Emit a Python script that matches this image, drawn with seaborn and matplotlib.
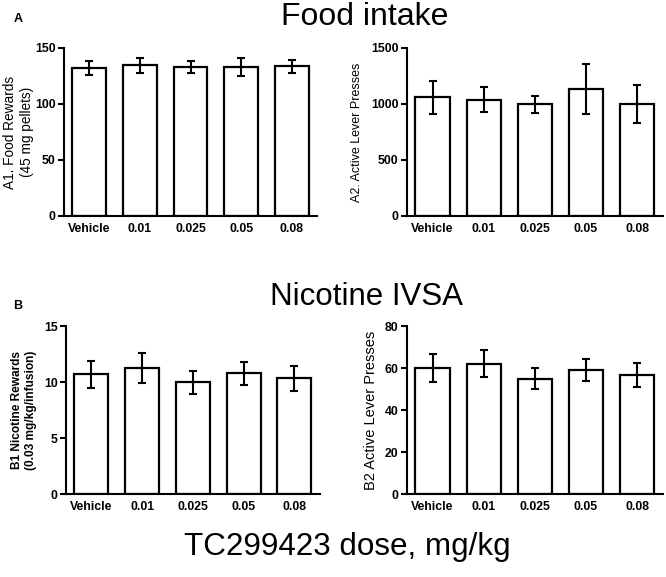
import numpy as np
import pandas as pd
import matplotlib
matplotlib.use("Agg")
import matplotlib.pyplot as plt
import seaborn as sns

doses = ["Vehicle", "0.01", "0.025", "0.05", "0.08"]

food_rewards = [132, 134.5, 133, 133, 133.6]
food_rewards_sem = [6, 6.7, 5.6, 8, 6]

food_presses = [1060, 1039, 997, 1131, 997]
food_presses_sem = [148, 113, 78, 225, 170]

nic_rewards = [10.68, 11.25, 9.96, 10.77, 10.32]
nic_rewards_sem = [1.2, 1.3, 1.05, 1.03, 1.12]

nic_presses = [60, 62, 55, 59, 56.5]
nic_presses_sem = [6.6, 6.5, 5, 5.4, 5.7]

sns.set_style("ticks")
plt.rcParams["font.family"] = ["Liberation Sans", "DejaVu Sans"]
plt.rcParams["text.color"] = "black"
plt.rcParams["axes.labelcolor"] = "black"
plt.rcParams["xtick.color"] = "black"
plt.rcParams["ytick.color"] = "black"
plt.rcParams["axes.edgecolor"] = "black"

fig = plt.figure(figsize=(6.66, 5.77), dpi=100)

def panel(rect, vals, sem, ymax, yticks, ylabel, label_weight="normal", label_size=9, pad=4):
    ax = fig.add_axes(rect)
    df = pd.DataFrame({"dose": doses, "value": vals})
    sns.barplot(data=df, x="dose", y="value", color="white", edgecolor="black",
                linewidth=1.6, width=0.67, errorbar=None, ax=ax)
    ax.errorbar(np.arange(len(doses)), vals, yerr=sem, fmt="none", ecolor="black",
                elinewidth=1.5, capsize=3, capthick=1.5)
    ax.set_xlim(-0.5, 4.5)
    ax.set_ylim(0, ymax)
    ax.set_yticks(yticks)
    ax.set_xlabel("")
    ax.set_ylabel(ylabel, fontsize=label_size, fontweight=label_weight, labelpad=pad)
    sns.despine(ax=ax)
    for s in ["left", "bottom"]:
        ax.spines[s].set_linewidth(1.5)
    ax.tick_params(axis="x", length=0, pad=5)
    ax.tick_params(axis="y", length=4, width=1.5, pad=2)
    for t in ax.get_xticklabels() + ax.get_yticklabels():
        t.set_fontweight("bold")
        t.set_fontsize(8.8)
    return ax

panel([0.0961, 0.6257, 0.380, 0.2912], food_rewards, food_rewards_sem, 150,
      [0, 50, 100, 150], "A1. Food Rewards\n(45 mg pellets)", label_size=9.8, pad=1)
panel([0.611, 0.6257, 0.384, 0.2912], food_presses, food_presses_sem, 1500,
      [0, 500, 1000, 1500], "A2. Active Lever Presses", label_size=9, pad=6)
panel([0.0991, 0.1438, 0.381, 0.2912], nic_rewards, nic_rewards_sem, 15,
      [0, 5, 10, 15], "B1 Nicotine Rewards\n(0.03 mg/kg/infusion)", label_weight="bold", label_size=8.6, pad=5)
panel([0.611, 0.1438, 0.384, 0.2912], nic_presses, nic_presses_sem, 80,
      [0, 20, 40, 60, 80], "B2 Active Lever Presses", label_size=10.5, pad=5)

fig.text(0.548, 0.9567, "Food intake", ha="center", va="baseline", fontsize=23)
fig.text(0.55, 0.4714, "Nicotine IVSA", ha="center", va="baseline", fontsize=22.5)
fig.text(0.522, 0.038, "TC299423 dose, mg/kg", ha="center", va="baseline", fontsize=22.6)
fig.text(0.027, 0.962, "A", fontsize=9, fontweight="bold", ha="center", va="baseline")
fig.text(0.027, 0.4645, "B", fontsize=9, fontweight="bold", ha="center", va="baseline")

fig.savefig("out.png", dpi=100)
